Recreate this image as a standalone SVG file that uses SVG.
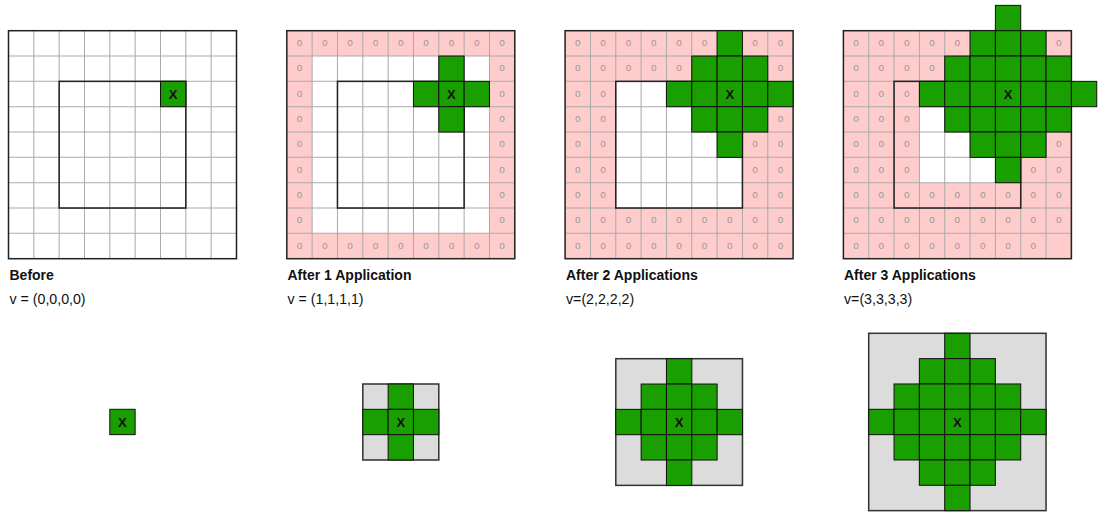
<svg xmlns="http://www.w3.org/2000/svg" width="1098" height="513" viewBox="0 0 1098 513">
<defs>
<style>
.o{font-family:"Liberation Sans",Arial,sans-serif;font-size:7.9px;fill:#999;text-anchor:middle}
.x{font-family:"Liberation Sans",Arial,sans-serif;font-weight:bold;font-size:10.3px;fill:#111;text-anchor:middle}
.g{fill:#1a9f00;stroke:#111;stroke-width:0.8}
.gl{fill:none;stroke:#aaa;stroke-width:0.8}
.bd{fill:none;stroke:#222;stroke-width:1.2}
.pk{fill:#ffcccc}
.wh{fill:#fff}
.gr{fill:#dcdcdc;stroke:#333;stroke-width:1.2}
.t{font-family:"Liberation Sans",Arial,sans-serif;font-weight:bold;font-size:14px;fill:#111}
.v{font-family:"Liberation Sans",Arial,sans-serif;font-size:14.2px;fill:#111}
</style>
<path id="lines" d="M20 0V180M40 0V180M60 0V180M80 0V180M100 0V180M120 0V180M140 0V180M160 0V180M0 20H180M0 40H180M0 60H180M0 80H180M0 100H180M0 120H180M0 140H180M0 160H180"/>
</defs>
<rect width="1098" height="513" fill="#fff"/>

<g id="grid-before" transform="translate(8.5,30.7) scale(1.26667)">
<rect class="wh" x="0" y="0" width="180" height="180"/>
<use href="#lines" class="gl"/>
<rect class="bd" x="0" y="0" width="180" height="180"/>
<rect class="bd" x="40" y="40" width="100" height="100"/>
<rect class="g" x="120" y="40" width="20" height="20"/>
<text class="x" x="130" y="53.7">X</text>
</g>

<g id="grid-after1" transform="translate(286.8,30.7) scale(1.26667)">
<rect class="pk" x="0" y="0" width="180" height="180"/>
<rect class="wh" x="20" y="20" width="140" height="140"/>
<use href="#lines" class="gl"/>
<text class="o" x="10" y="12.1">o</text><text class="o" x="30" y="12.1">o</text><text class="o" x="50" y="12.1">o</text><text class="o" x="70" y="12.1">o</text><text class="o" x="90" y="12.1">o</text><text class="o" x="110" y="12.1">o</text><text class="o" x="130" y="12.1">o</text><text class="o" x="150" y="12.1">o</text><text class="o" x="170" y="12.1">o</text>
<text class="o" x="10" y="172.1">o</text><text class="o" x="30" y="172.1">o</text><text class="o" x="50" y="172.1">o</text><text class="o" x="70" y="172.1">o</text><text class="o" x="90" y="172.1">o</text><text class="o" x="110" y="172.1">o</text><text class="o" x="130" y="172.1">o</text><text class="o" x="150" y="172.1">o</text><text class="o" x="170" y="172.1">o</text>
<text class="o" x="10" y="32.1">o</text><text class="o" x="10" y="52.1">o</text><text class="o" x="10" y="72.1">o</text><text class="o" x="10" y="92.1">o</text><text class="o" x="10" y="112.1">o</text><text class="o" x="10" y="132.1">o</text><text class="o" x="10" y="152.1">o</text>
<text class="o" x="170" y="32.1">o</text><text class="o" x="170" y="52.1">o</text><text class="o" x="170" y="72.1">o</text><text class="o" x="170" y="92.1">o</text><text class="o" x="170" y="112.1">o</text><text class="o" x="170" y="132.1">o</text><text class="o" x="170" y="152.1">o</text>
<rect class="bd" x="0" y="0" width="180" height="180"/>
<rect class="bd" x="40" y="40" width="100" height="100"/>
<rect class="g" x="120" y="20" width="20" height="20"/>
<rect class="g" x="100" y="40" width="20" height="20"/>
<rect class="g" x="120" y="40" width="20" height="20"/>
<rect class="g" x="140" y="40" width="20" height="20"/>
<rect class="g" x="120" y="60" width="20" height="20"/>
<text class="x" x="130" y="53.7">X</text>
</g>

<g id="grid-after2" transform="translate(565.1,30.7) scale(1.26667)">
<rect class="pk" x="0" y="0" width="180" height="180"/>
<rect class="wh" x="40" y="40" width="100" height="100"/>
<use href="#lines" class="gl"/>
<text class="o" x="10" y="12.1">o</text><text class="o" x="30" y="12.1">o</text><text class="o" x="50" y="12.1">o</text><text class="o" x="70" y="12.1">o</text><text class="o" x="90" y="12.1">o</text><text class="o" x="110" y="12.1">o</text><text class="o" x="150" y="12.1">o</text><text class="o" x="170" y="12.1">o</text>
<text class="o" x="10" y="32.1">o</text><text class="o" x="30" y="32.1">o</text><text class="o" x="50" y="32.1">o</text><text class="o" x="70" y="32.1">o</text><text class="o" x="90" y="32.1">o</text><text class="o" x="170" y="32.1">o</text>
<text class="o" x="10" y="52.1">o</text><text class="o" x="30" y="52.1">o</text>
<text class="o" x="10" y="72.1">o</text><text class="o" x="30" y="72.1">o</text><text class="o" x="170" y="72.1">o</text>
<text class="o" x="10" y="92.1">o</text><text class="o" x="30" y="92.1">o</text><text class="o" x="150" y="92.1">o</text><text class="o" x="170" y="92.1">o</text>
<text class="o" x="10" y="112.1">o</text><text class="o" x="30" y="112.1">o</text><text class="o" x="150" y="112.1">o</text><text class="o" x="170" y="112.1">o</text>
<text class="o" x="10" y="132.1">o</text><text class="o" x="30" y="132.1">o</text><text class="o" x="150" y="132.1">o</text><text class="o" x="170" y="132.1">o</text>
<text class="o" x="10" y="152.1">o</text><text class="o" x="30" y="152.1">o</text><text class="o" x="50" y="152.1">o</text><text class="o" x="70" y="152.1">o</text><text class="o" x="90" y="152.1">o</text><text class="o" x="110" y="152.1">o</text><text class="o" x="130" y="152.1">o</text><text class="o" x="150" y="152.1">o</text><text class="o" x="170" y="152.1">o</text>
<text class="o" x="10" y="172.1">o</text><text class="o" x="30" y="172.1">o</text><text class="o" x="50" y="172.1">o</text><text class="o" x="70" y="172.1">o</text><text class="o" x="90" y="172.1">o</text><text class="o" x="110" y="172.1">o</text><text class="o" x="130" y="172.1">o</text><text class="o" x="150" y="172.1">o</text><text class="o" x="170" y="172.1">o</text>
<rect class="bd" x="0" y="0" width="180" height="180"/>
<rect class="bd" x="40" y="40" width="100" height="100"/>
<rect class="g" x="120" y="0" width="20" height="20"/>
<rect class="g" x="100" y="20" width="20" height="20"/>
<rect class="g" x="120" y="20" width="20" height="20"/>
<rect class="g" x="140" y="20" width="20" height="20"/>
<rect class="g" x="80" y="40" width="20" height="20"/>
<rect class="g" x="100" y="40" width="20" height="20"/>
<rect class="g" x="120" y="40" width="20" height="20"/>
<rect class="g" x="140" y="40" width="20" height="20"/>
<rect class="g" x="160" y="40" width="20" height="20"/>
<rect class="g" x="100" y="60" width="20" height="20"/>
<rect class="g" x="120" y="60" width="20" height="20"/>
<rect class="g" x="140" y="60" width="20" height="20"/>
<rect class="g" x="120" y="80" width="20" height="20"/>
<text class="x" x="130" y="53.7">X</text>
</g>

<g id="grid-after3" transform="translate(843.4,30.7) scale(1.26667)">
<rect class="pk" x="0" y="0" width="180" height="180"/>
<rect class="wh" x="60" y="60" width="60" height="60"/>
<use href="#lines" class="gl"/>
<text class="o" x="10" y="12.1">o</text><text class="o" x="30" y="12.1">o</text><text class="o" x="50" y="12.1">o</text><text class="o" x="70" y="12.1">o</text><text class="o" x="90" y="12.1">o</text><text class="o" x="170" y="12.1">o</text>
<text class="o" x="10" y="32.1">o</text><text class="o" x="30" y="32.1">o</text><text class="o" x="50" y="32.1">o</text><text class="o" x="70" y="32.1">o</text>
<text class="o" x="10" y="52.1">o</text><text class="o" x="30" y="52.1">o</text><text class="o" x="50" y="52.1">o</text>
<text class="o" x="10" y="72.1">o</text><text class="o" x="30" y="72.1">o</text><text class="o" x="50" y="72.1">o</text>
<text class="o" x="10" y="92.1">o</text><text class="o" x="30" y="92.1">o</text><text class="o" x="50" y="92.1">o</text><text class="o" x="170" y="92.1">o</text>
<text class="o" x="10" y="112.1">o</text><text class="o" x="30" y="112.1">o</text><text class="o" x="50" y="112.1">o</text><text class="o" x="150" y="112.1">o</text><text class="o" x="170" y="112.1">o</text>
<text class="o" x="10" y="132.1">o</text><text class="o" x="30" y="132.1">o</text><text class="o" x="50" y="132.1">o</text><text class="o" x="70" y="132.1">o</text><text class="o" x="90" y="132.1">o</text><text class="o" x="110" y="132.1">o</text><text class="o" x="130" y="132.1">o</text><text class="o" x="150" y="132.1">o</text><text class="o" x="170" y="132.1">o</text>
<text class="o" x="10" y="152.1">o</text><text class="o" x="30" y="152.1">o</text><text class="o" x="50" y="152.1">o</text><text class="o" x="70" y="152.1">o</text><text class="o" x="90" y="152.1">o</text><text class="o" x="110" y="152.1">o</text><text class="o" x="130" y="152.1">o</text><text class="o" x="150" y="152.1">o</text><text class="o" x="170" y="152.1">o</text>
<text class="o" x="10" y="172.1">o</text><text class="o" x="30" y="172.1">o</text><text class="o" x="50" y="172.1">o</text><text class="o" x="70" y="172.1">o</text><text class="o" x="90" y="172.1">o</text><text class="o" x="110" y="172.1">o</text><text class="o" x="130" y="172.1">o</text><text class="o" x="150" y="172.1">o</text>
<rect class="bd" x="0" y="0" width="180" height="180"/>
<rect class="bd" x="40" y="40" width="100" height="100"/>
<rect class="g" x="120" y="-20" width="20" height="20"/>
<rect class="g" x="100" y="0" width="20" height="20"/>
<rect class="g" x="120" y="0" width="20" height="20"/>
<rect class="g" x="140" y="0" width="20" height="20"/>
<rect class="g" x="80" y="20" width="20" height="20"/>
<rect class="g" x="100" y="20" width="20" height="20"/>
<rect class="g" x="120" y="20" width="20" height="20"/>
<rect class="g" x="140" y="20" width="20" height="20"/>
<rect class="g" x="160" y="20" width="20" height="20"/>
<rect class="g" x="60" y="40" width="20" height="20"/>
<rect class="g" x="80" y="40" width="20" height="20"/>
<rect class="g" x="100" y="40" width="20" height="20"/>
<rect class="g" x="120" y="40" width="20" height="20"/>
<rect class="g" x="140" y="40" width="20" height="20"/>
<rect class="g" x="160" y="40" width="20" height="20"/>
<rect class="g" x="180" y="40" width="20" height="20"/>
<rect class="g" x="80" y="60" width="20" height="20"/>
<rect class="g" x="100" y="60" width="20" height="20"/>
<rect class="g" x="120" y="60" width="20" height="20"/>
<rect class="g" x="140" y="60" width="20" height="20"/>
<rect class="g" x="160" y="60" width="20" height="20"/>
<rect class="g" x="100" y="80" width="20" height="20"/>
<rect class="g" x="120" y="80" width="20" height="20"/>
<rect class="g" x="140" y="80" width="20" height="20"/>
<rect class="g" x="120" y="100" width="20" height="20"/>
<text class="x" x="130" y="53.7">X</text>
</g>

<g id="labels">
<text class="t" x="9.5" y="280">Before</text>
<text class="v" x="9.5" y="304">v = (0,0,0,0)</text>
<text class="t" x="287.5" y="280">After 1 Application</text>
<text class="v" x="287.5" y="304">v = (1,1,1,1)</text>
<text class="t" x="566" y="280">After 2 Applications</text>
<text class="v" x="566" y="304">v=(2,2,2,2)</text>
<text class="t" x="844" y="280">After 3 Applications</text>
<text class="v" x="844" y="304">v=(3,3,3,3)</text>
</g>

<g id="kernel-0" transform="translate(109.8,409.3) scale(1.26667)">
<rect class="g" x="0" y="0" width="20" height="20"/>
<text class="x" x="10" y="13.7">X</text>
</g>

<g id="kernel-1" transform="translate(362.8,384) scale(1.26667)">
<rect class="gr" x="0" y="0" width="60" height="60"/>
<rect class="g" x="20" y="0" width="20" height="20"/>
<rect class="g" x="0" y="20" width="20" height="20"/>
<rect class="g" x="20" y="20" width="20" height="20"/>
<rect class="g" x="40" y="20" width="20" height="20"/>
<rect class="g" x="20" y="40" width="20" height="20"/>
<text class="x" x="30" y="33.7">X</text>
</g>

<g id="kernel-2" transform="translate(615.8,358.7) scale(1.26667)">
<rect class="gr" x="0" y="0" width="100" height="100"/>
<rect class="g" x="40" y="0" width="20" height="20"/>
<rect class="g" x="20" y="20" width="20" height="20"/>
<rect class="g" x="40" y="20" width="20" height="20"/>
<rect class="g" x="60" y="20" width="20" height="20"/>
<rect class="g" x="0" y="40" width="20" height="20"/>
<rect class="g" x="20" y="40" width="20" height="20"/>
<rect class="g" x="40" y="40" width="20" height="20"/>
<rect class="g" x="60" y="40" width="20" height="20"/>
<rect class="g" x="80" y="40" width="20" height="20"/>
<rect class="g" x="20" y="60" width="20" height="20"/>
<rect class="g" x="40" y="60" width="20" height="20"/>
<rect class="g" x="60" y="60" width="20" height="20"/>
<rect class="g" x="40" y="80" width="20" height="20"/>
<text class="x" x="50" y="53.7">X</text>
</g>

<g id="kernel-3" transform="translate(868.7,333.3) scale(1.26667)">
<rect class="gr" x="0" y="0" width="140" height="140"/>
<rect class="g" x="60" y="0" width="20" height="20"/>
<rect class="g" x="40" y="20" width="20" height="20"/>
<rect class="g" x="60" y="20" width="20" height="20"/>
<rect class="g" x="80" y="20" width="20" height="20"/>
<rect class="g" x="20" y="40" width="20" height="20"/>
<rect class="g" x="40" y="40" width="20" height="20"/>
<rect class="g" x="60" y="40" width="20" height="20"/>
<rect class="g" x="80" y="40" width="20" height="20"/>
<rect class="g" x="100" y="40" width="20" height="20"/>
<rect class="g" x="0" y="60" width="20" height="20"/>
<rect class="g" x="20" y="60" width="20" height="20"/>
<rect class="g" x="40" y="60" width="20" height="20"/>
<rect class="g" x="60" y="60" width="20" height="20"/>
<rect class="g" x="80" y="60" width="20" height="20"/>
<rect class="g" x="100" y="60" width="20" height="20"/>
<rect class="g" x="120" y="60" width="20" height="20"/>
<rect class="g" x="20" y="80" width="20" height="20"/>
<rect class="g" x="40" y="80" width="20" height="20"/>
<rect class="g" x="60" y="80" width="20" height="20"/>
<rect class="g" x="80" y="80" width="20" height="20"/>
<rect class="g" x="100" y="80" width="20" height="20"/>
<rect class="g" x="40" y="100" width="20" height="20"/>
<rect class="g" x="60" y="100" width="20" height="20"/>
<rect class="g" x="80" y="100" width="20" height="20"/>
<rect class="g" x="60" y="120" width="20" height="20"/>
<text class="x" x="70" y="73.7">X</text>
</g>
</svg>
